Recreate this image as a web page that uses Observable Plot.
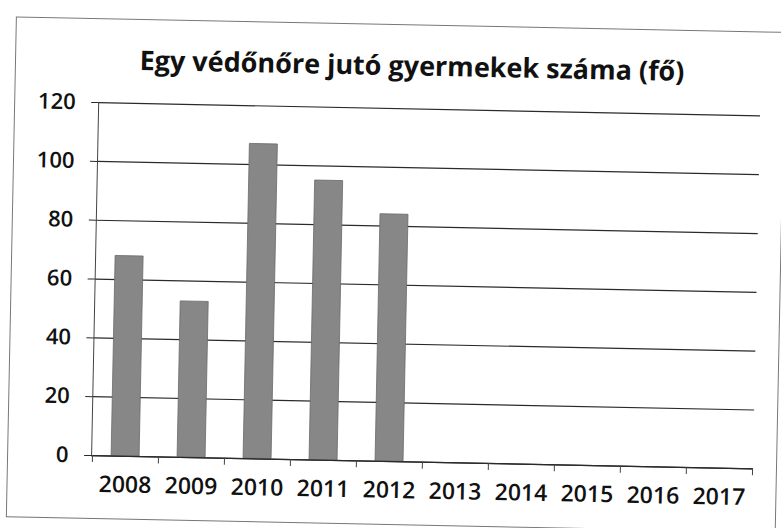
<!DOCTYPE html>
<html>
<head>
<meta charset="utf-8">
<script src="https://cdn.jsdelivr.net/npm/d3@7"></script>
<script src="https://cdn.jsdelivr.net/npm/@observablehq/plot@0.6"></script>
<style>
  html, body { margin: 0; padding: 0; background: #fff; }
  #wrap { position: relative; width: 781px; height: 528px; overflow: hidden; }
  #rot { position: absolute; left: 0; top: 0; width: 781px; height: 528px; transform: rotate(1.15deg); transform-origin: 390px 264px; }
  #frame { position: absolute; left: 11px; top: 24px; width: 770px; height: 501px; border: 1.5px solid #777; box-sizing: border-box; }
  #title { position: absolute; left: 0; width: 816px; top: 46px; text-align: center; font-family: "Open Sans", sans-serif; font-weight: 700; font-size: 27px; color: #111; white-space: nowrap; }
  #chart { position: absolute; left: 0; top: 0; }
</style>
</head>
<body>
<div id="wrap">
  <div id="rot">
    <div id="frame"></div>
    <div id="title">Egy védőnőre jutó gyermekek száma (fő)</div>
    <div id="chart"></div>
  </div>
</div>
<script>
const years = ["2008", "2009", "2010", "2011", "2012", "2013", "2014", "2015", "2016", "2017"];
const values = [68, 53, 107, 95, 84, null, null, null, null, null];
const yTicks = [0, 20, 40, 60, 80, 100, 120];

const data = years.map((year, i) => ({year, value: values[i]})).filter(d => d.value != null);

const W = 781, H = 528, ML = 95, MR = 24, MT = 108, MB = 67;
const step = (W - ML - MR) / years.length;

const chart = Plot.plot({
  width: W,
  height: H,
  marginLeft: ML,
  marginRight: MR,
  marginTop: MT,
  marginBottom: MB,
  style: {fontFamily: "'Open Sans', sans-serif", fontSize: "23px", color: "#111", background: "transparent", overflow: "visible"},
  x: {domain: years, paddingInner: 0.58, paddingOuter: 0.29, align: 0.5, label: null},
  y: {domain: [0, 120], label: null},
  marks: [
    Plot.gridY(yTicks, {stroke: "#2a2a2a", strokeOpacity: 1, strokeWidth: 1.2}),
    Plot.axisY(yTicks, {tickSize: 7, tickPadding: 16, stroke: "#2a2a2a", fontSize: 22, fontWeight: 600, fill: "#111"}),
    Plot.frame({anchor: "left", stroke: "#444"}),
    Plot.barY(data, {x: "year", y: "value", fill: "#878787", stroke: "#6a6a6a", strokeWidth: 0.8}),
    Plot.ruleY([0], {stroke: "#2a2a2a", strokeWidth: 1.2}),
    Plot.ruleX(years, {x: d => d, dx: -step / 2, y1: 0, y2: 0, insetBottom: -7, stroke: "#444"}),
    Plot.ruleX(years.slice(-1), {x: d => d, dx: step / 2, y1: 0, y2: 0, insetBottom: -7, stroke: "#444"}),
    Plot.axisX({tickSize: 0, tickPadding: 20, fontSize: 23, fontWeight: 600, fill: "#111"})
  ]
});
document.getElementById("chart").appendChild(chart);
</script>
</body>
</html>
